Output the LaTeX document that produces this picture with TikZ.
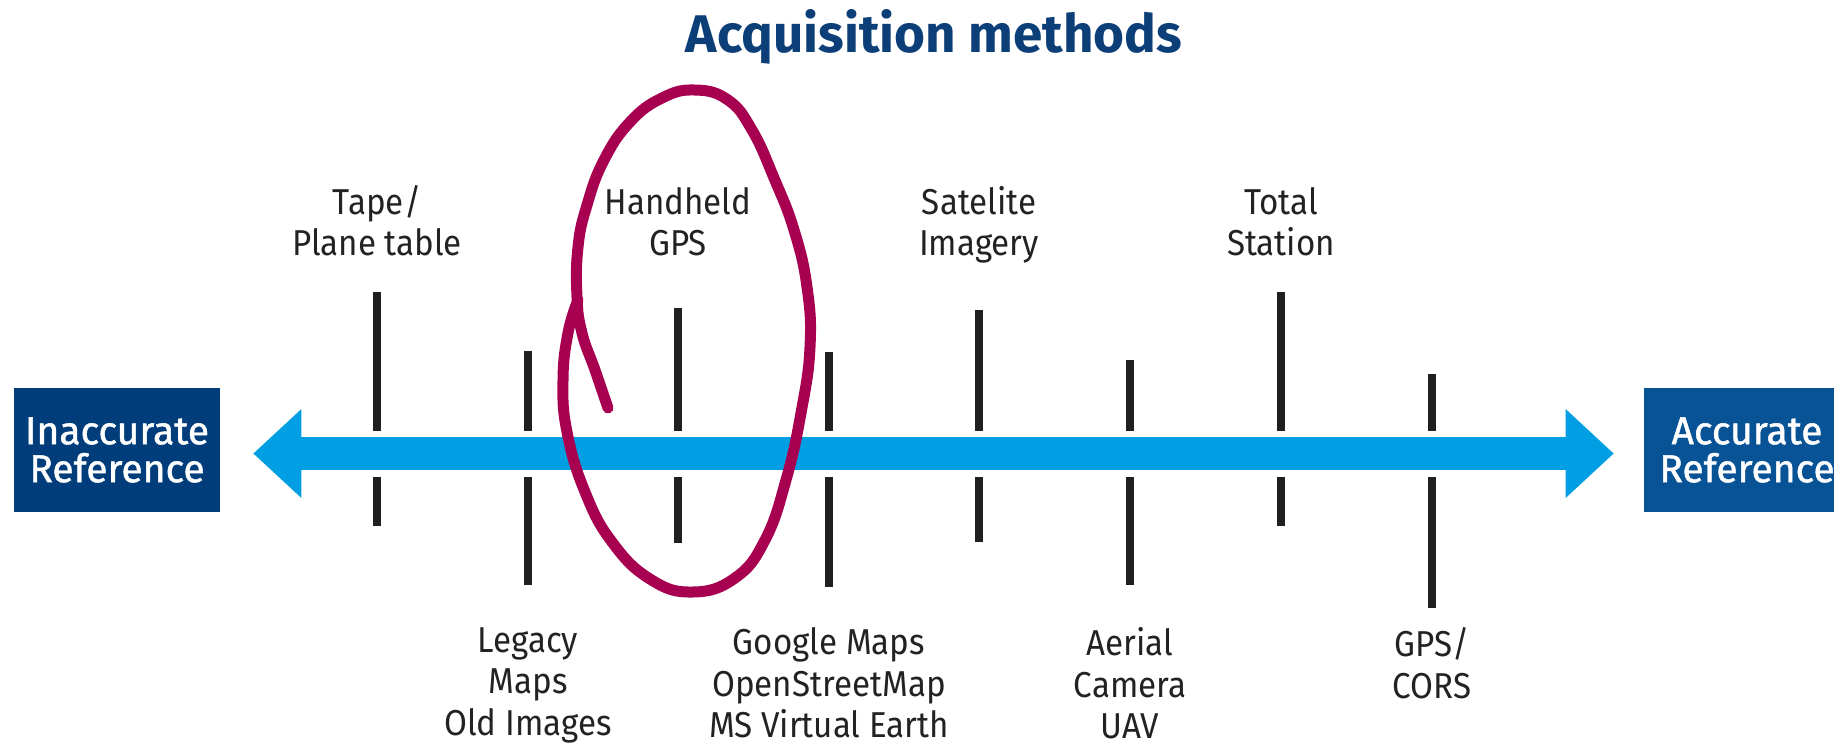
\documentclass[tikz,border=0pt]{standalone}
\usepackage{fontspec}
\setmainfont{Fira Sans}
\newfontfamily\labelfont{Fira Sans}[FakeStretch=0.92]
\newfontfamily\boxfont{Fira Sans}[FakeBold=1.2]
\usetikzlibrary{arrows.meta, positioning}
\definecolor{titleblue}{HTML}{0C3E78}
\definecolor{arrowblue}{HTML}{009FE3}
\definecolor{leftboxblue}{HTML}{003D7A}
\definecolor{rightboxblue}{HTML}{085296}
\definecolor{penred}{HTML}{A80050}
\definecolor{methodtext}{HTML}{222222}

\begin{document}
\begin{tikzpicture}[x=0.5pt, y=-0.5pt,
    refbox/.style={minimum width=103pt, minimum height=62pt, inner sep=0pt,
      align=center, text=white, font=\boxfont\fontsize{19.5}{19}\selectfont},
    method/.style={align=center, inner sep=0pt, text=methodtext,
      font=\labelfont\fontsize{18}{20.8}\selectfont},
    tickbar/.style={line width=4pt, draw=black!88},
    pen/.style={draw=penred, line width=5.5pt, line cap=round, line join=round},
    >={Triangle[length=24pt 0 0, width=44.5pt 0 0, line width=0pt 0 0]}
  ]
  \useasboundingbox (0,0) rectangle (1834,746);

  \node[anchor=base, text=titleblue, font=\bfseries\fontsize{26.5}{30}\selectfont]
    (title) at (934,52) {Acquisition methods};

  % the two ends of the scale
  \node[refbox, fill=leftboxblue] (inaccurate) at (117,450) {Inaccurate\\Reference};
  \node[refbox, fill=rightboxblue] (accurate) at (1747,450) {Accurate\\Reference};
  \draw[<->, arrowblue, line width=16.5pt, shorten <=16.5pt, shorten >=15pt]
    ([yshift=-1.75pt]inaccurate.east) -- ([yshift=-1.75pt]accurate.west);

  % ticks above and below the arrow
  \foreach \x/\top/\bot in {377/292/526, 528/351/585, 678/308/543, 829/352/587,
                            979/310/542, 1130/360/585, 1281/292/526, 1432/374/608} {
    \draw[tickbar] (\x,\top) -- (\x,431);
    \draw[tickbar] (\x,477) -- (\x,\bot);
  }

  % methods above
  \node[method, anchor=south, text depth=0pt] (tape) at (377,256) {Tape/\\Plane table};
  \node[method, anchor=south, text depth=0pt] (handheld) at (678,256) {Handheld\\GPS};
  \node[method, anchor=south, text depth=0pt] (satelite) at (979,256) {Satelite\\Imagery};
  \node[method, anchor=south, text depth=0pt] (total) at (1281,256) {Total\\Station};

  % methods below
  \node[method, anchor=north] (legacy) at (528,627) {Legacy\\Maps\\Old Images};
  \node[method, anchor=north] (google) at (829,627) {Google Maps\\OpenStreetMap\\MS Virtual Earth};
  \node[method, anchor=north] (aerial) at (1130,627) {Aerial\\Camera\\UAV};
  \node[method, anchor=north] (cors) at (1432,627) {GPS/\\CORS};

  % hand-drawn loop round the handheld GPS
  \draw[pen] plot[smooth, tension=0.75] coordinates {
    (608,408) (595,370) (582,333) (577,297) (578,247) (587,205) (604,160)
    (630,122) (662,98) (695,90) (728,100) (752,130) (774,178) (794,230)
    (807,287) (810,347) (801,413) (786,480) (765,540) (735,578) (692,592)
    (650,579) (612,542) (585,492) (567,432) (563,380) (568,333) (578,300)};
\end{tikzpicture}
\end{document}
